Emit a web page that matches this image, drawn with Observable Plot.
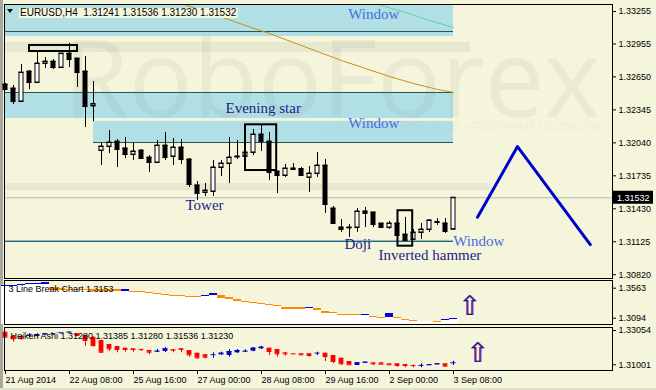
<!DOCTYPE html>
<html><head><meta charset="utf-8">
<script src="https://cdn.jsdelivr.net/npm/d3@7"></script>
<script src="https://cdn.jsdelivr.net/npm/@observablehq/plot@0.6"></script>
<style>
html,body{margin:0;padding:0;background:#F5F5DC;}
#wrap{position:relative;width:656px;height:390px;overflow:hidden;background:#F5F5DC;}
#wrap svg{position:absolute;left:0;overflow:visible;}
#edgeL{position:absolute;left:0;top:0;width:3px;height:390px;background:#a8a8a0;}
#edgeB{position:absolute;left:0;top:388px;width:656px;height:2px;background:#e0e0d0;}
</style></head><body><div id="wrap"><div id="edgeL"></div><div id="edgeB"></div></div>
<script>
// ---------- main EURUSD H4 candles ----------
const open  = [1.32580,1.32543,1.32423,1.32700,1.32598,1.32774,1.32792,1.32737,1.32866,1.32820,1.32700,1.32381,1.31969,1.32006,1.32052,1.31988,1.31932,1.31969,1.31904,1.31858,1.32015,1.31914,1.31997,1.31886,1.31646,1.31581,1.31590,1.31812,1.31849,1.31914,1.31914,1.31951,1.32117,1.32052,1.31775,1.31738,1.31803,1.31798,1.31720,1.31756,1.31830,1.31433,1.31257,1.31257,1.31257,1.31405,1.31396,1.31294,1.31257,1.31294,1.31192,1.31146,1.31211,1.31238,1.31303,1.31294,1.31241];
const high  = [1.32589,1.32570,1.32765,1.32709,1.32876,1.32830,1.32811,1.32866,1.32959,1.32820,1.32839,1.32608,1.32043,1.32154,1.32071,1.32090,1.32043,1.31978,1.31923,1.32062,1.32136,1.32080,1.32071,1.31895,1.31682,1.31664,1.31877,1.31877,1.32090,1.32062,1.32154,1.32164,1.32201,1.32136,1.31775,1.31840,1.31849,1.31812,1.31821,1.31951,1.31886,1.31451,1.31331,1.31285,1.31433,1.31442,1.31396,1.31294,1.31313,1.31303,1.31350,1.31238,1.31294,1.31331,1.31340,1.31340,1.31536];
const low   = [1.32524,1.32395,1.32413,1.32533,1.32598,1.32728,1.32718,1.32737,1.32737,1.32552,1.32182,1.32237,1.31830,1.31941,1.31812,1.31895,1.31877,1.31895,1.31766,1.31858,1.31877,1.31830,1.31840,1.31627,1.31507,1.31544,1.31544,1.31729,1.31664,1.31886,1.31914,1.31923,1.31960,1.31692,1.31571,1.31720,1.31784,1.31729,1.31581,1.31720,1.31387,1.31285,1.31211,1.31165,1.31211,1.31257,1.31257,1.31257,1.31238,1.31183,1.31137,1.31146,1.31146,1.31211,1.31276,1.31202,1.31230];
const close = [1.32533,1.32423,1.32691,1.32598,1.32774,1.32792,1.32737,1.32866,1.32811,1.32691,1.32376,1.32399,1.32006,1.32043,1.31978,1.31932,1.31960,1.31895,1.31858,1.32015,1.31904,1.31997,1.31886,1.31655,1.31571,1.31599,1.31812,1.31849,1.31904,1.31909,1.31951,1.32117,1.32052,1.31766,1.31738,1.31803,1.31793,1.31738,1.31756,1.31830,1.31470,1.31294,1.31238,1.31253,1.31405,1.31387,1.31285,1.31257,1.31294,1.31183,1.31137,1.31211,1.31238,1.31322,1.31308,1.31220,1.31532];
const lastPrice = 1.31532;
const priceTicks = [1.33255,1.32955,1.32650,1.32345,1.32040,1.31735,1.31430,1.31125,1.30820];
const timeTickIndex = [0,8,16,24,32,40,48,56];
const timeLabels = ["21 Aug 2014","22 Aug 08:00","25 Aug 16:00","27 Aug 00:00","28 Aug 08:00","29 Aug 16:00","2 Sep 00:00","3 Sep 08:00"];

// window zones (price bands) and levels
const zoneStart  = [-0.2, -0.2, 11];
const zoneEnd    = [56, 56, 56];
const zoneTop    = [1.33400, 1.32506, 1.32239];
const zoneBottom = [1.33024, 1.32265, 1.32043];
const zoneLine   = [1.33070, 1.32506, 1.32043];
const windowLevel = 1.31128;

// moving averages
const maSlowIndex = [21,24,27,30,33,36,39,42,45,48,51,54,56];
const maSlow      = [1.33352,1.33278,1.33204,1.33126,1.33051,1.32968,1.32885,1.32802,1.32728,1.32654,1.32589,1.32534,1.32506];
const maFastIndex = [44,47,50,53,56];
const maFast      = [1.33375,1.33310,1.33246,1.33172,1.33107];

// forecast zigzag
const zigIndex = [59, 64, 73.1];
const zigPrice = [1.31352, 1.32006, 1.31098];

// pattern annotations
const noteText  = ["Window","Window","Evening star","Tower","Doji","Inverted hammer","Window"];
const noteIndex = [42.84, 42.84, 27.5, 22.5, 42.375, 46.625, 55.96];
const notePrice = [1.33186, 1.32177, 1.32312, 1.31419, 1.31058, 1.30956, 1.31086];
const noteColor = ["#4a6be0","#4a6be0","#1c1c86","#1c1c86","#1c1c86","#1c1c86","#4a6be0"];

// pattern boxes
const boxX1 = [3.0, 30.0, 49.06];
const boxX2 = [9.0, 33.9, 50.9];
const boxY1 = [1.32941, 1.32207, 1.31412];
const boxY2 = [1.32885, 1.31784, 1.31084];

// ---------- 3 Line Break panel ----------
const tlbTop = [1.36052,1.36052,1.36208,1.36365,1.36365,1.36521,1.35739,1.35583,1.35427,1.35427,1.35427,1.35427,1.35427,1.35427,1.35427,1.35427,1.35114,1.35114,1.34958,1.34802,1.34645,1.34489,1.34489,1.34333,1.34333,1.34489,1.34802,1.34489,1.34176,1.33864,1.33551,1.33395,1.33239,1.33082,1.32926,1.32613,1.32613,1.32613,1.32613,1.32457,1.31988,1.31832,1.31519,1.31519,1.31519,1.31519,1.31206,1.31050,1.31675,1.31050,1.30737,1.30581,1.30581,1.30581,1.30425,1.30737,1.30894];
const tlbBottom = [1.35896,1.35896,1.36052,1.36208,1.36208,1.36208,1.35271,1.35271,1.35271,1.35271,1.35271,1.35114,1.35114,1.35114,1.35114,1.35114,1.34958,1.34958,1.34802,1.34645,1.34489,1.34333,1.34333,1.34176,1.34176,1.34333,1.34489,1.34020,1.33864,1.33551,1.33395,1.33239,1.33082,1.32926,1.32770,1.32301,1.32301,1.32301,1.32457,1.32144,1.31675,1.31675,1.31363,1.31363,1.31363,1.31363,1.31050,1.30894,1.31050,1.30894,1.30581,1.30425,1.30425,1.30425,1.30268,1.30581,1.30737];
const tlbDir = ["u","u","u","u","u","u","d","d","d","d","d","d","d","d","d","u","d","d","d","d","d","d","d","d","d","u","u","d","d","d","d","d","d","d","d","d","d","d","u","d","d","d","d","d","d","u","d","d","u","d","d","d","n","n","d","u","u"];
const tlbTicks = [1.3563, 1.3094];

// ---------- Heiken Ashi panel ----------
const haOpen  = [1.32952,1.32695,1.32695,1.32755,1.32695,1.32797,1.32850,1.32900,1.32940,1.32857,1.32755,1.32653,1.32456,1.32216,1.32096,1.31995,1.31959,1.31925,1.31857,1.31779,1.31797,1.31917,1.31959,1.31857,1.31695,1.31600,1.31595,1.31600,1.31558,1.31719,1.31779,1.31815,1.31959,1.31995,1.31917,1.31719,1.31665,1.31660,1.31660,1.31695,1.31695,1.31558,1.31396,1.31199,1.30959,1.31097,1.31121,1.31121,1.31061,1.31061,1.31019,1.30965,1.30955,1.30959,1.31001,1.31061,1.31097];
const haClose = [1.32653,1.32557,1.32593,1.32760,1.32797,1.32857,1.32857,1.32916,1.32952,1.32755,1.32456,1.32156,1.31755,1.31959,1.31917,1.31917,1.31917,1.31910,1.31755,1.31815,1.31959,1.31875,1.31917,1.31600,1.31420,1.31456,1.31605,1.31695,1.31797,1.31857,1.31815,1.31995,1.32055,1.31797,1.31660,1.31660,1.31655,1.31600,1.31558,1.31700,1.31498,1.31199,1.31061,1.31001,1.31121,1.31157,1.31061,1.31037,1.31001,1.30959,1.30959,1.30955,1.30965,1.31001,1.31061,1.30917,1.31121];
const haHigh  = [1.32952,1.32755,1.32755,1.32874,1.32874,1.32874,1.32874,1.32930,1.32970,1.32857,1.32755,1.32653,1.32456,1.32216,1.32096,1.31995,1.31959,1.31925,1.31857,1.31917,1.32037,1.31917,1.31959,1.31857,1.31695,1.31600,1.31719,1.31755,1.31917,1.31917,1.31899,1.32037,1.32114,1.31995,1.31917,1.31719,1.31665,1.31660,1.31660,1.31755,1.31695,1.31558,1.31396,1.31199,1.31121,1.31157,1.31121,1.31121,1.31061,1.31061,1.31019,1.30965,1.31061,1.31001,1.31061,1.31061,1.31217];
const haLow   = [1.32653,1.32354,1.32456,1.32635,1.32635,1.32797,1.32830,1.32900,1.32930,1.32755,1.32114,1.32055,1.31677,1.31797,1.31719,1.31755,1.31755,1.31797,1.31600,1.31737,1.31737,1.31719,1.31719,1.31456,1.31318,1.31360,1.31396,1.31558,1.31456,1.31677,1.31737,1.31779,1.31917,1.31558,1.31456,1.31516,1.31640,1.31558,1.31456,1.31558,1.31199,1.31061,1.30959,1.31001,1.30959,1.31097,1.30959,1.31037,1.31001,1.30858,1.30822,1.30822,1.30822,1.30959,1.31001,1.30917,1.30959];
const haTicks = [1.33054, 1.31001];

// arrows (signal markers) position
const arrow2 = {i: 58, v: 1.32770};
const arrow3 = {i: 59, v: 1.31677};

// ====================================================================
const xDomain = [-0.125, 75.875];
const FONT = "Liberation Sans, Arial, sans-serif";
const SERIF = "Liberation Serif, Times New Roman, serif";
const wrap = document.getElementById("wrap");

const candles = open.map((o, i) => ({i, o, h: high[i], l: low[i], c: close[i]}));
const zones = zoneStart.map((s, k) => ({x1: s, x2: zoneEnd[k], y1: zoneBottom[k], y2: zoneTop[k], line: zoneLine[k]}));
const notes = noteText.map((t, k) => ({t, i: noteIndex[k], p: notePrice[k], c: noteColor[k]}));
const boxes = boxX1.map((x, k) => ({x1: x, x2: boxX2[k], y1: boxY1[k], y2: boxY2[k]}));
const slow = maSlowIndex.map((i, k) => ({i, v: maSlow[k]}));
const fast = maFastIndex.map((i, k) => ({i, v: maFast[k]}));
const zig = zigIndex.map((i, k) => ({i, v: zigPrice[k]}));

function watermark(index, scales, values, dims) {
  const g = d3.create("svg:g").attr("fill", "#707060").attr("pointer-events", "none").attr("text-anchor", "start");
  g.append("rect").attr("x", 4).attr("y", 42).attr("width", 466).attr("height", 10).attr("fill-opacity", 0.09);
  g.append("rect").attr("x", 4).attr("y", 183).attr("width", 486).attr("height", 7).attr("fill-opacity", 0.09);
  g.append("text").text("RoboForex").attr("x", 63).attr("y", 117)
    .attr("font-family", "Open Sans, Lato, sans-serif").attr("font-size", 108)
    .attr("textLength", 537).attr("lengthAdjust", "spacingAndGlyphs").attr("fill-opacity", 0.08);
  g.append("text").text("ИСПОЛЬЗУЙ РОБОТОВ – ПОЛУЧАЙ ПРИБЫЛЬ").attr("x", 318).attr("y", 131)
    .attr("font-family", "Open Sans, sans-serif").attr("font-size", 13)
    .attr("textLength", 282).attr("lengthAdjust", "spacingAndGlyphs").attr("fill-opacity", 0.08);
  return g.node();
}

const main = Plot.plot({
  width: 656, height: 279,
  marginLeft: 4, marginRight: 44, marginTop: 4, marginBottom: 1,
  x: {domain: xDomain, axis: null},
  y: {domain: [1.30785, 1.33320], axis: null},
  style: {background: "transparent", fontFamily: FONT, fontSize: "9px", color: "black"},
  marks: [
    Plot.rect(zones, {x1: "x1", x2: "x2", y1: "y1", y2: "y2", fill: "#B0E0E6", clip: true}),
    watermark,
    Plot.ruleY(zones, {y: "line", x1: "x1", x2: "x2", stroke: "#2F4F4F", clip: true}),
    Plot.ruleY([windowLevel], {x1: xDomain[0], x2: 56, stroke: "#7ec8e3", dy: -1}),
    Plot.ruleY([windowLevel], {x1: xDomain[0], x2: 56, stroke: "#2F4F4F"}),
    Plot.ruleY([lastPrice], {stroke: "#b8b8c8"}),
    Plot.line(slow, {x: "i", y: "v", stroke: "#c8901a", strokeWidth: 1, clip: true}),
    Plot.line(fast, {x: "i", y: "v", stroke: "#66CDAA", strokeWidth: 1, clip: true}),
    Plot.ruleX(candles, {x: "i", y1: "l", y2: "h", stroke: "black"}),
    Plot.rect(candles, {x1: d => d.i - 0.25, x2: d => d.i + 0.25, y1: "o", y2: "c",
      fill: d => d.c > d.o ? "white" : "black", stroke: "black"}),
    Plot.ruleY(candles, {y: "c", x1: d => d.i - 0.31, x2: d => d.i + 0.31, stroke: "black"}),
    Plot.ruleY(candles, {y: "o", x1: d => d.i - 0.31, x2: d => d.i + 0.31, stroke: "black"}),
    Plot.rect(boxes, {x1: "x1", x2: "x2", y1: "y1", y2: "y2", fill: "none", stroke: "black", strokeWidth: 2}),
    Plot.line(zig, {x: "i", y: "v", stroke: "#0000CD", strokeWidth: 3}),
    Plot.text(notes, {x: "i", y: "p", text: "t", fill: "c", textAnchor: "start", lineAnchor: "bottom",
      fontFamily: SERIF, fontSize: 15}),
    Plot.frame({stroke: "black"}),
    Plot.axisY(priceTicks, {anchor: "right", label: null, tickFormat: d => d.toFixed(5), tickSize: 3, tickPadding: 3,
      fontSize: 9, fontFamily: FONT})
  ]
});
main.style.top = "0px";
wrap.appendChild(main);

// header of main panel + last price flag
{
  const svg = d3.select(main);
  const t = svg.append("text").attr("x", 20).attr("y", 16).attr("text-anchor", "start")
    .attr("font-family", FONT).attr("font-size", 10).attr("fill", "black")
    .text("EURUSD,H4  1.31241 1.31536 1.31230 1.31532");
  const bb = t.node().getBBox();
  svg.insert("rect", () => t.node()).attr("x", bb.x - 1).attr("y", 8).attr("width", bb.width + 2).attr("height", 10).attr("fill", "#F5F5DC");
  svg.append("path").attr("d", "M7,9 L13,9 L10,13 Z").attr("fill", "black");
  const yy = main.scale("y").apply(lastPrice);
  svg.append("rect").attr("x", 613).attr("y", yy - 6.5).attr("width", 40).attr("height", 13).attr("fill", "black");
  svg.append("text").attr("x", 617).attr("y", yy + 3.5).attr("text-anchor", "start").attr("font-family", FONT).attr("font-size", 9)
    .attr("fill", "white").text(lastPrice.toFixed(5));
}

// ---------- 3 line break ----------
const tlb = tlbTop.map((t, i) => ({i, t, b: tlbBottom[i], d: tlbDir[i]}));
const tlbDomain = [1.29955, 1.36834];
const p2 = Plot.plot({
  width: 656, height: 47,
  marginLeft: 4, marginRight: 44, marginTop: 1, marginBottom: 2,
  x: {domain: xDomain, axis: null},
  y: {domain: tlbDomain, axis: null},
  style: {background: "transparent", fontFamily: FONT, fontSize: "9px", color: "black"},
  marks: [
    Plot.rect(tlb, {x1: d => d.i - 0.5, x2: d => d.i + 0.5, y1: tlbDomain[0], y2: "b", fill: "white"}),
    Plot.rect(tlb.filter(d => d.d !== "n"), {x1: d => d.i - 0.5, x2: d => d.i + 0.5, y1: "b", y2: "t",
      fill: d => d.d === "u" ? "#0000E0" : "#FF8C00"}),
    Plot.text(["3 Line Break Chart 1.3153"], {frameAnchor: "top-left", dx: 4, dy: 5, fontSize: 9, fill: "black", fontFamily: FONT}),
    Plot.text([arrow2], {x: "i", y: "v", text: () => "⇧", fontSize: 27, fill: "#c050c0", fontFamily: "DejaVu Sans", dx: 1}),
    Plot.text([arrow2], {x: "i", y: "v", text: () => "⇧", fontSize: 27, fill: "#1c1c86", fontFamily: "DejaVu Sans"}),
    Plot.frame({stroke: "black"}),
    Plot.axisY(tlbTicks, {anchor: "right", label: null, tickFormat: d => d.toFixed(4), tickSize: 3, tickPadding: 3, fontSize: 9, fontFamily: FONT})
  ]
});
p2.style.top = "279px";
wrap.appendChild(p2);

// ---------- heiken ashi ----------
const ha = haOpen.map((o, i) => ({i, o, c: haClose[i], h: haHigh[i], l: haLow[i], up: haClose[i] >= o}));
const tickLabel = new Map(timeTickIndex.map((t, k) => [t, timeLabels[k]]));
const p3 = Plot.plot({
  width: 656, height: 64,
  marginLeft: 4, marginRight: 44, marginTop: 1, marginBottom: 20,
  x: {domain: xDomain, axis: null},
  y: {domain: [1.30660, 1.33234], axis: null},
  style: {background: "transparent", fontFamily: FONT, fontSize: "9px", color: "black"},
  marks: [
    Plot.ruleX(ha, {x: "i", y1: "l", y2: "h", stroke: d => d.up ? "#0000CD" : "#FF0000"}),
    Plot.rect(ha, {x1: d => d.i - 0.3, x2: d => d.i + 0.3, y1: "o", y2: "c", fill: d => d.up ? "#0000CD" : "#FF0000"}),
    Plot.ruleY(ha, {y: "c", x1: d => d.i - 0.3, x2: d => d.i + 0.3, stroke: d => d.up ? "#0000CD" : "#FF0000"}),
    Plot.text(["Heiken Ashi 1.31280 1.31385 1.31280 1.31536 1.31230"], {frameAnchor: "top-left", dx: 6, dy: 5, fontSize: 9, fill: "black", fontFamily: FONT}),
    Plot.text([arrow3], {x: "i", y: "v", text: () => "⇧", fontSize: 27, fill: "#c050c0", fontFamily: "DejaVu Sans", dx: 1}),
    Plot.text([arrow3], {x: "i", y: "v", text: () => "⇧", fontSize: 27, fill: "#1c1c86", fontFamily: "DejaVu Sans"}),
    Plot.frame({stroke: "black"}),
    Plot.axisY(haTicks, {anchor: "right", label: null, tickFormat: d => d.toFixed(5), tickSize: 3, tickPadding: 3, fontSize: 9, fontFamily: FONT}),
    Plot.axisX(timeTickIndex, {anchor: "bottom", label: null, tickFormat: d => tickLabel.get(d), tickSize: 4, tickPadding: 2,
      textAnchor: "start", dx: 0, fontSize: 9, fontFamily: FONT})
  ]
});
p3.style.top = "326px";
wrap.appendChild(p3);
</script></body></html>
